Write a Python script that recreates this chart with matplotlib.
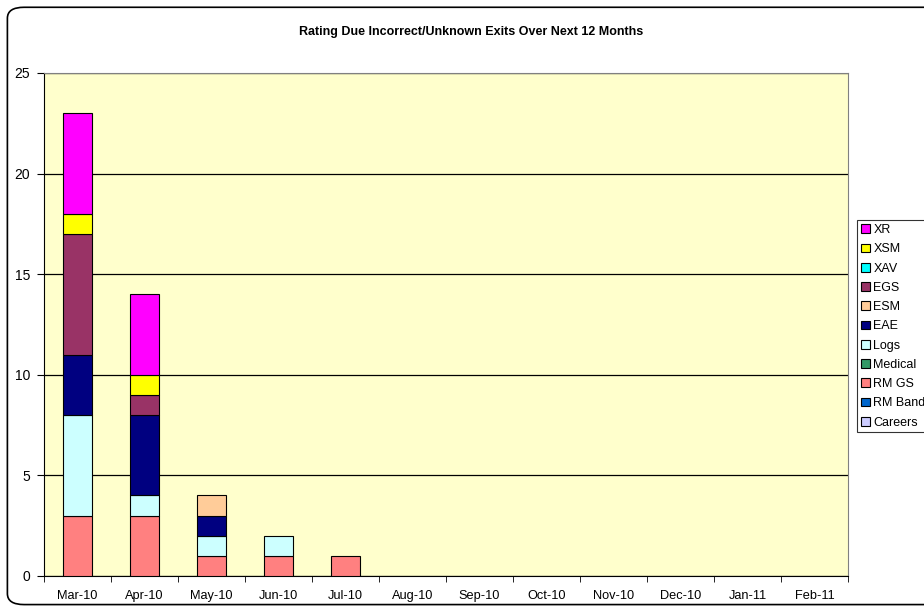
"""Stacked monthly bar chart of incorrect/unknown exits."""

import matplotlib.pyplot as plt
import numpy as np
from matplotlib.patches import FancyBboxPatch, Patch

plt.rcParams["font.family"] = ["Liberation Sans", "DejaVu Sans"]

months = ["Mar-10", "Apr-10", "May-10", "Jun-10", "Jul-10", "Aug-10",
          "Sep-10", "Oct-10", "Nov-10", "Dec-10", "Jan-11", "Feb-11"]

# stacked bottom to top
careers = [0, 0, 0, 0, 0, 0, 0, 0, 0, 0, 0, 0]
rm_band = [0, 0, 0, 0, 0, 0, 0, 0, 0, 0, 0, 0]
rm_gs = [3, 3, 1, 1, 1, 0, 0, 0, 0, 0, 0, 0]
medical = [0, 0, 0, 0, 0, 0, 0, 0, 0, 0, 0, 0]
logs = [5, 1, 1, 1, 0, 0, 0, 0, 0, 0, 0, 0]
eae = [3, 4, 1, 0, 0, 0, 0, 0, 0, 0, 0, 0]
esm = [0, 0, 1, 0, 0, 0, 0, 0, 0, 0, 0, 0]
egs = [6, 1, 0, 0, 0, 0, 0, 0, 0, 0, 0, 0]
xav = [0, 0, 0, 0, 0, 0, 0, 0, 0, 0, 0, 0]
xsm = [1, 1, 0, 0, 0, 0, 0, 0, 0, 0, 0, 0]
xr = [5, 4, 0, 0, 0, 0, 0, 0, 0, 0, 0, 0]

series = [
    ("Careers", careers, "#CCCCFF"),
    ("RM Band", rm_band, "#0066CC"),
    ("RM GS", rm_gs, "#FF8080"),
    ("Medical", medical, "#339966"),
    ("Logs", logs, "#CCFFFF"),
    ("EAE", eae, "#000080"),
    ("ESM", esm, "#FFCC99"),
    ("EGS", egs, "#993366"),
    ("XAV", xav, "#00FFFF"),
    ("XSM", xsm, "#FFFF00"),
    ("XR", xr, "#FF00FF"),
]

fig = plt.figure(figsize=(9.24, 6.07), dpi=100)
# chart area border (runs off the right edge like the screenshot)
fig.patches.append(FancyBboxPatch(
    (0.008, 0.004), 1.1, 0.984, boxstyle="round,pad=0,rounding_size=0.018",
    transform=fig.transFigure, facecolor="white", edgecolor="black",
    linewidth=1.2, zorder=-1))

ax = fig.add_axes([0.0476, 0.0511, 0.870, 0.8287])
ax.set_facecolor("#FFFFCC")

x = np.arange(len(months))
bottom = np.zeros(len(months))
for name, vals, color in series:
    vals = np.array(vals, dtype=float)
    mask = vals > 0
    ax.bar(x[mask], vals[mask], bottom=bottom[mask], width=0.42,
           color=color, edgecolor="black", linewidth=0.8, zorder=3)
    bottom += vals

ax.set_xlim(-0.5, len(months) - 0.5)
ax.set_ylim(0, 25)
ax.set_yticks(range(0, 26, 5))
ax.yaxis.grid(True, color="black", linewidth=0.9, zorder=0)
ax.set_axisbelow(True)

ax.set_xticks(x)
ax.set_xticklabels(months, fontsize=9.2)
ax.set_xticks(np.arange(-0.5, len(months), 1), minor=True)
ax.tick_params(axis="x", which="major", length=0, pad=10)
ax.tick_params(axis="x", which="minor", length=4, direction="out")
ax.tick_params(axis="y", length=5, direction="out", labelsize=10, pad=5)

for side in ["top", "right"]:
    ax.spines[side].set_color("#808080")
ax.spines["left"].set_color("black")
ax.spines["bottom"].set_color("black")

fig.text(0.51, 0.947, "Rating Due Incorrect/Unknown Exits Over Next 12 Months",
         ha="center", va="center", fontsize=9, fontweight="bold")

handles = [Patch(facecolor=c, edgecolor="black", linewidth=0.8, label=n)
           for n, _, c in reversed(series)]
leg = fig.legend(handles=handles, loc="upper left",
                 bbox_to_anchor=(0.9275, 0.637), fontsize=9, frameon=True,
                 fancybox=False, edgecolor="black", handlelength=0.7,
                 handleheight=0.7, handletextpad=0.3, labelspacing=0.58,
                 borderpad=0.3, borderaxespad=0)
leg.get_frame().set_linewidth(0.8)

fig.savefig("out.png", dpi=100)
